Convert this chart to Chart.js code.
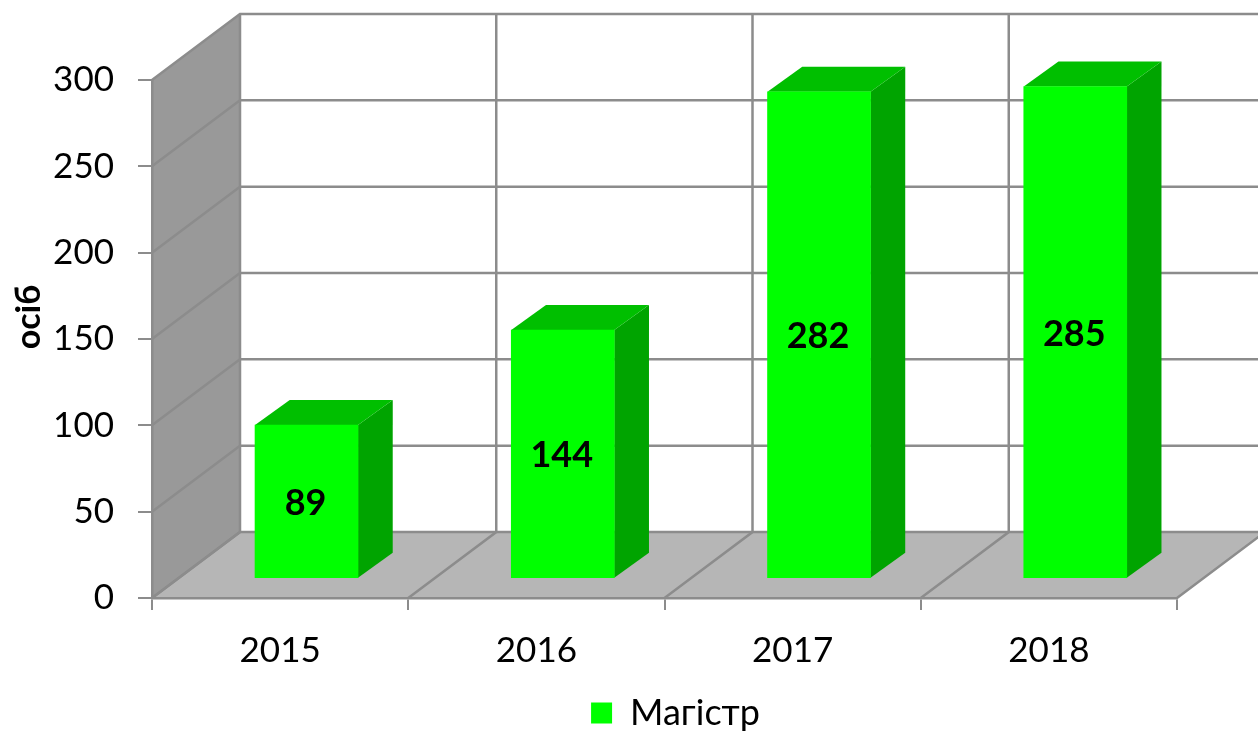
<!DOCTYPE html>
<html lang="uk"><head><meta charset="utf-8"><title>Магістр</title>
<script src="https://cdn.jsdelivr.net/npm/chart.js@4/dist/chart.umd.min.js"></script>
<style>html,body{margin:0;padding:0;background:#fff;overflow:hidden}canvas{display:block}</style>
</head><body><canvas id="c" width="1258" height="731"></canvas>
<script>
const categories = ['2015','2016','2017','2018'];
const seriesName = 'Магістр';
const values = [89,144,282,285];
const yTicks = [0,50,100,150,200,250,300];
const axisTitle = 'осіб';

const FONT = 'Lato, "Open Sans", sans-serif';
const DEPTH = {x:88,y:-66}, BAR_DEPTH = {x:34.7,y:-25}, BAR_SHIFT = {x:26.4,y:-19.3};
const LINE = '#8c8c8c';

const scene = {
  id:'scene',
  afterLayout(chart){
    const lg=chart.legend, h=lg.height;
    lg.left += 11; lg.right += 11;
    lg.top = 717.5-h/2; lg.bottom = lg.top+h;
  },
  beforeDraw(chart){
    const {ctx, scales:{x,y}} = chart;
    const y0=y.getPixelForValue(0), yT=y.getPixelForValue(300), l=x.left, r=x.right;
    ctx.save();
    ctx.fillStyle='#999999';
    ctx.beginPath();ctx.moveTo(l,y0);ctx.lineTo(l+DEPTH.x,y0+DEPTH.y);ctx.lineTo(l+DEPTH.x,yT+DEPTH.y);ctx.lineTo(l,yT);ctx.closePath();ctx.fill();
    ctx.fillStyle='#b6b6b6';
    ctx.beginPath();ctx.moveTo(l,y0);ctx.lineTo(r,y0);ctx.lineTo(r+DEPTH.x,y0+DEPTH.y);ctx.lineTo(l+DEPTH.x,y0+DEPTH.y);ctx.closePath();ctx.fill();
    ctx.strokeStyle=LINE;ctx.lineWidth=2.5;
    yTicks.forEach(v=>{
      const p=y.getPixelForValue(v);
      ctx.beginPath();ctx.moveTo(l,p);ctx.lineTo(l+DEPTH.x,p+DEPTH.y);ctx.lineTo(chart.width+10,p+DEPTH.y);ctx.stroke();
    });
    const step=(r-l)/categories.length;
    for(let i=0;i<=categories.length;i++){
      const p=l+step*i;
      ctx.beginPath();ctx.moveTo(p,y0);ctx.lineTo(p+DEPTH.x,y0+DEPTH.y);ctx.lineTo(p+DEPTH.x,yT+DEPTH.y);ctx.stroke();
    }
    ctx.restore();
  },
  beforeDatasetsDraw(chart){
    const {ctx} = chart;
    ctx.save();
    ctx.translate(BAR_SHIFT.x,BAR_SHIFT.y);
    chart.getDatasetMeta(0).data.forEach(b=>{
      const {x,y,base,width}=b.getProps(['x','y','base','width'],true);
      const R=x+width/2,L=x-width/2;
      ctx.fillStyle='#00a400';
      ctx.beginPath();ctx.moveTo(R,y);ctx.lineTo(R+BAR_DEPTH.x,y+BAR_DEPTH.y);ctx.lineTo(R+BAR_DEPTH.x,base+BAR_DEPTH.y);ctx.lineTo(R,base);ctx.closePath();ctx.fill();
      ctx.fillStyle='#00bf00';
      ctx.beginPath();ctx.moveTo(L,y);ctx.lineTo(L+BAR_DEPTH.x,y+BAR_DEPTH.y);ctx.lineTo(R+BAR_DEPTH.x,y+BAR_DEPTH.y);ctx.lineTo(R,y);ctx.closePath();ctx.fill();
    });
  },
  afterDatasetsDraw(chart){
    const {ctx} = chart;
    ctx.restore();
    ctx.save();
    ctx.fillStyle='#000';ctx.textAlign='center';ctx.textBaseline='middle';
    ctx.font='bold 36px '+FONT;
    chart.getDatasetMeta(0).data.forEach((b,i)=>{
      const {x,y,base}=b.getProps(['x','y','base'],true);
      ctx.fillText(String(values[i]),x+BAR_SHIFT.x-1,(y+base)/2+BAR_SHIFT.y+2);
    });
    ctx.translate(29,317);ctx.rotate(-Math.PI/2);
    ctx.font='bold 34px '+FONT;
    ctx.fillText(axisTitle,0,0);
    ctx.restore();
  }
};

new Chart(document.getElementById('c'),{
  type:'bar',
  data:{labels:categories,datasets:[{label:seriesName,data:values,backgroundColor:'#00ff00',borderWidth:0,barThickness:103,clip:false}]},
  plugins:[scene],
  options:{
    responsive:false,animation:false,
    layout:{padding:{left:0,right:81,top:80,bottom:0}},
    plugins:{
      tooltip:{enabled:false},
      legend:{position:'bottom',fullSize:false,labels:{font:{family:FONT,size:36},color:'#000',boxWidth:21,boxHeight:21,padding:1}}
    },
    scales:{
      x:{
        afterFit(s){s.height=86;},
        grid:{drawOnChartArea:false,drawTicks:true,tickLength:12,color:LINE,lineWidth:2,offset:true},
        border:{display:true,color:LINE,width:2.5},
        ticks:{font:{family:FONT,size:35},color:'#000',padding:20,maxRotation:0}
      },
      y:{
        min:0,max:300,
        afterFit(s){s.width=152;},
        afterBuildTicks(s){s.ticks=yTicks.map(v=>({value:v}));},
        grid:{drawOnChartArea:false,drawTicks:true,tickLength:14,color:LINE,lineWidth:2},
        border:{display:true,color:LINE,width:2.5},
        ticks:{font:{family:FONT,size:35},color:'#000',padding:24}
      }
    }
  }
});
</script></body></html>
